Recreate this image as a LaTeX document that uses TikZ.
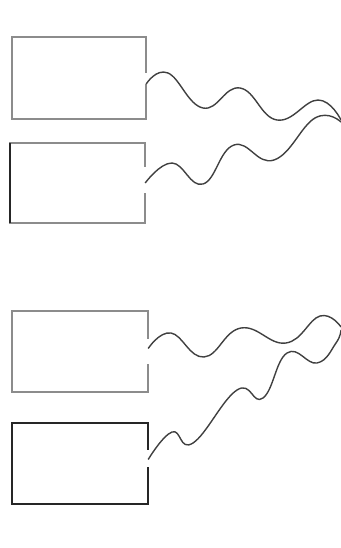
\documentclass[tikz,border=0pt]{standalone}
\usepackage{tikz}
\usetikzlibrary{calc}

\begin{document}
\begin{tikzpicture}[
        x=1pt, y=-1pt,
        % 占位方框（不画边，轮廓另画）
        slot/.style={
            rectangle,
            inner sep=0pt,
            minimum width=#1,
            minimum height=81pt
        },
        % 方框轮廓（右边留缺口）
        frame/.style={
            draw=#1,
            line width=1.7pt,
            line join=miter
        },
        % 波浪线
        wave/.style={
            draw=black!75,
            line width=1.4pt,
            smooth,
            tension=0.75
        }
    ]
    \useasboundingbox (0,0) rectangle (340,548);

    % ================= 方框 =================
    \node[slot=134pt, minimum height=82pt] (b1) at (79,78) {};
    \node[slot=135pt, minimum height=80pt] (b2) at (77.5,183) {};
    \node[slot=136pt] (b3) at (80,351.5) {};
    \node[slot=136pt] (b4) at (80,463.5) {};

    \draw[frame=gray!90] ([yshift=-36pt]b1.north east) |- (b1.north west) |- (b1.south east) -- ([yshift=35pt]b1.south east);
    \draw[frame=gray!90] ([yshift=-24pt]b2.north east) |- (b2.north west) |- (b2.south east) -- ([yshift=30pt]b2.south east);
    \draw[frame=black!85] (b2.north west) -- (b2.south west);
    \draw[frame=gray!90] ([yshift=-28pt]b3.north east) |- (b3.north west) |- (b3.south east) -- ([yshift=28pt]b3.south east);
    \draw[frame=black!85] ([yshift=-27pt]b4.north east) |- (b4.north west) |- (b4.south east) -- ([yshift=37pt]b4.south east);

    % ================= 波浪线终点 =================
    \coordinate (e1) at (341,120);
    \coordinate (e2) at (341,122);
    \coordinate (e3) at (341,327);
    \coordinate (e4) at (341,330);

    % ================= 波浪线 =================
    \draw[wave] plot coordinates {([yshift=-6pt]b1.east) (168,73) (203,108) (240,88) (277,120) (318,100) (e1)};
    \draw[wave] plot coordinates {(b2.east) (172,163) (203,184) (234,145) (274,160) (315,118) (e2)};
    \draw[wave] plot coordinates {([yshift=3pt]b3.east) (171,333) (204,357) (241,328) (286,343) (320,316) (e3)};
    \draw[wave] plot coordinates {([yshift=4pt]b4.east) (172,432) (193,443) (237,390) (263,398) (287,353) (317,363) (336,343) (e4)};

\end{tikzpicture}
\end{document}
